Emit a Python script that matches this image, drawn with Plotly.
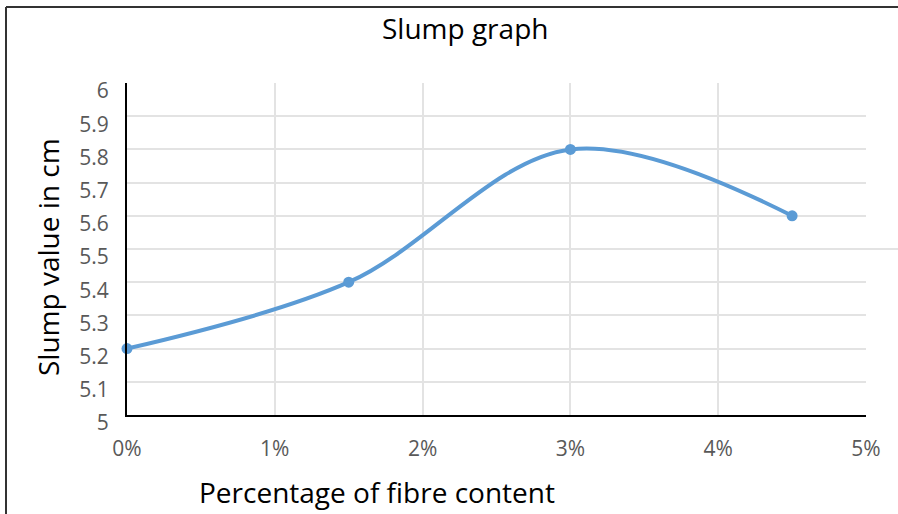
import plotly.graph_objects as go

fibre_pct = [0, 1.5, 3, 4.5]
slump_cm = [5.2, 5.4, 5.8, 5.6]
x_ticks = [0, 1, 2, 3, 4, 5]
x_tick_labels = ["0%", "1%", "2%", "3%", "4%", "5%"]
y_ticks = [5.0, 5.1, 5.2, 5.3, 5.4, 5.5, 5.6, 5.7, 5.8, 5.9, 6.0]
y_tick_labels = ["5", "5.1", "5.2", "5.3", "5.4", "5.5", "5.6", "5.7", "5.8", "5.9", "6"]

W, H = 898, 514
L, R, T, B = 127, 32, 83, 99
pw, ph = W - L - R, H - T - B

def px(xp):
    return (xp - L) / pw

def py(yp):
    return (H - B - yp) / ph

FONT = "Open Sans"

fig = go.Figure()
fig.add_trace(go.Scatter(
    x=fibre_pct, y=slump_cm, mode="lines+markers",
    line=dict(color="#5B9BD5", width=4, shape="spline", smoothing=1),
    marker=dict(color="#5B9BD5", size=11),
    cliponaxis=False, showlegend=False,
))

grid = "#E3E3E3"
fig.update_layout(
    width=W, height=H,
    margin=dict(l=L, r=R, t=T, b=B),
    plot_bgcolor="white", paper_bgcolor="white",
    font=dict(family=FONT),
    xaxis=dict(range=[0, 5], tickvals=x_ticks, ticktext=x_tick_labels,
               showgrid=True, gridcolor=grid, gridwidth=2,
               showline=True, linecolor="black", linewidth=2,
               zeroline=False, ticks="", ticklabelstandoff=14,
               tickfont=dict(size=21, color="#595959", family=FONT)),
    yaxis=dict(range=[5, 6], tickvals=y_ticks, ticktext=y_tick_labels,
               showgrid=True, gridcolor=grid, gridwidth=2,
               showline=True, linecolor="black", linewidth=2,
               zeroline=False, ticks="", ticklabelstandoff=12, ticklabelshift=8,
               tickfont=dict(size=21, color="#595959", family=FONT)),
    annotations=[
        dict(text="Slump graph", x=px(465), y=py(28), xref="paper", yref="paper",
             showarrow=False, font=dict(size=28, color="black", family=FONT),
             xanchor="center", yanchor="middle"),
        dict(text="Percentage of fibre content", x=px(377), y=py(492), xref="paper", yref="paper",
             showarrow=False, font=dict(size=28, color="black", family=FONT),
             xanchor="center", yanchor="middle"),
        dict(text="Slump value in cm", x=px(48), y=py(257), xref="paper", yref="paper",
             showarrow=False, textangle=-90, font=dict(size=28, color="black", family=FONT),
             xanchor="center", yanchor="middle"),
    ],
    shapes=[
        dict(type="line", xref="paper", yref="y", x0=px(128), x1=px(255), y0=5.5, y1=5.5,
             line=dict(color="white", width=3), layer="between"),
        dict(type="line", xref="paper", yref="y", x0=px(866), x1=px(898), y0=5.5, y1=5.5,
             line=dict(color=grid, width=2), layer="below"),
        dict(type="line", xref="paper", yref="paper", x0=px(6), x1=px(6), y0=py(7), y1=py(514),
             line=dict(color="#333333", width=2)),
        dict(type="line", xref="paper", yref="paper", x0=px(6), x1=px(898), y0=py(7), y1=py(7),
             line=dict(color="#333333", width=2)),
    ],
)

fig.write_html("out.html")
